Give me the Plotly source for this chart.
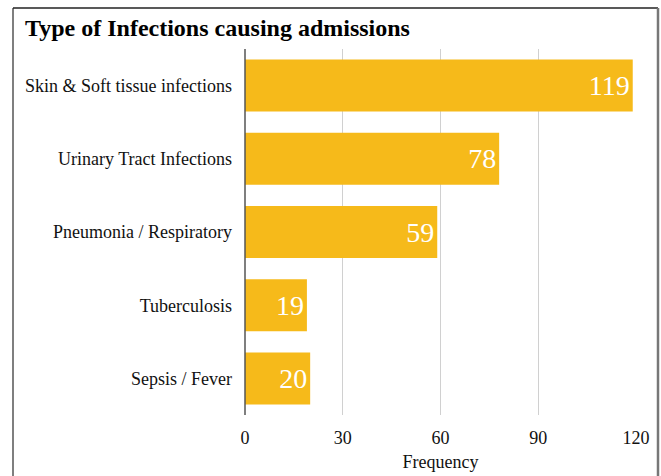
import plotly.graph_objects as go

categories = ["Skin & Soft tissue infections", "Urinary Tract Infections",
              "Pneumonia / Respiratory", "Tuberculosis", "Sepsis / Fever"]
frequency = [119, 78, 59, 19, 20]
x_ticks = [0, 30, 60, 90, 120]

SERIF = "Liberation Serif, Times New Roman, serif"
BAR = "#F6BA1A"

fig = go.Figure(go.Bar(
    y=categories, x=frequency, orientation="h",
    marker=dict(color=BAR, line=dict(width=0)),
    text=[str(v) for v in frequency], textposition="inside",
    insidetextanchor="end",
    textfont=dict(family=SERIF, size=28, color="white"),
    cliponaxis=False,
))

# plot area in pixels: x 245..636, y 49..415
L, R, T, B = 245, 636, 49, 415
W, H = R - L, B - T
def px_x(p): return (p - L) / W
def px_y(p): return (B - p) / H

fig.update_layout(
    width=661, height=476,
    margin=dict(l=L, r=661 - R, t=T, b=476 - B, autoexpand=False),
    paper_bgcolor="white", plot_bgcolor="white",
    showlegend=False, bargap=0.29,
    font=dict(family=SERIF, color="#111111"),
    title=dict(text="<b>Type of Infections causing admissions</b>",
               x=25 / 661, xanchor="left", xref="container",
               y=1 - 28 / 476, yanchor="middle", yref="container",
               font=dict(family=SERIF, size=24, color="black")),
    xaxis=dict(range=[0, 120], tickvals=x_ticks, showgrid=True, automargin=False,
               gridcolor="#D0D0D0", gridwidth=1, zeroline=False,
               showline=False, ticks="", ticklabelstandoff=10,
               tickfont=dict(size=18, color="#111111"),
               title=dict(text="Frequency", font=dict(size=18, color="#111111"), standoff=8)),
    yaxis=dict(autorange="reversed", showgrid=False, zeroline=False, automargin=False,
               showline=False, ticks="", ticklabelstandoff=12,
               tickfont=dict(size=18, color="#111111")),
    shapes=[
        dict(type="line", xref="paper", yref="paper", x0=0, x1=0, y0=0, y1=1,
             line=dict(color="#555555", width=1.5), layer="above"),
        dict(type="line", xref="paper", yref="paper",
             x0=px_x(13), x1=px_x(13), y0=px_y(8), y1=px_y(480),
             line=dict(color="#555555", width=1.5)),
        dict(type="line", xref="paper", yref="paper",
             x0=px_x(13), x1=px_x(658), y0=px_y(8), y1=px_y(8),
             line=dict(color="#222222", width=1.5)),
        dict(type="line", xref="paper", yref="paper",
             x0=px_x(658), x1=px_x(658), y0=px_y(8), y1=px_y(480),
             line=dict(color="#777777", width=2.5)),
    ],
)

fig.write_html("out.html")
